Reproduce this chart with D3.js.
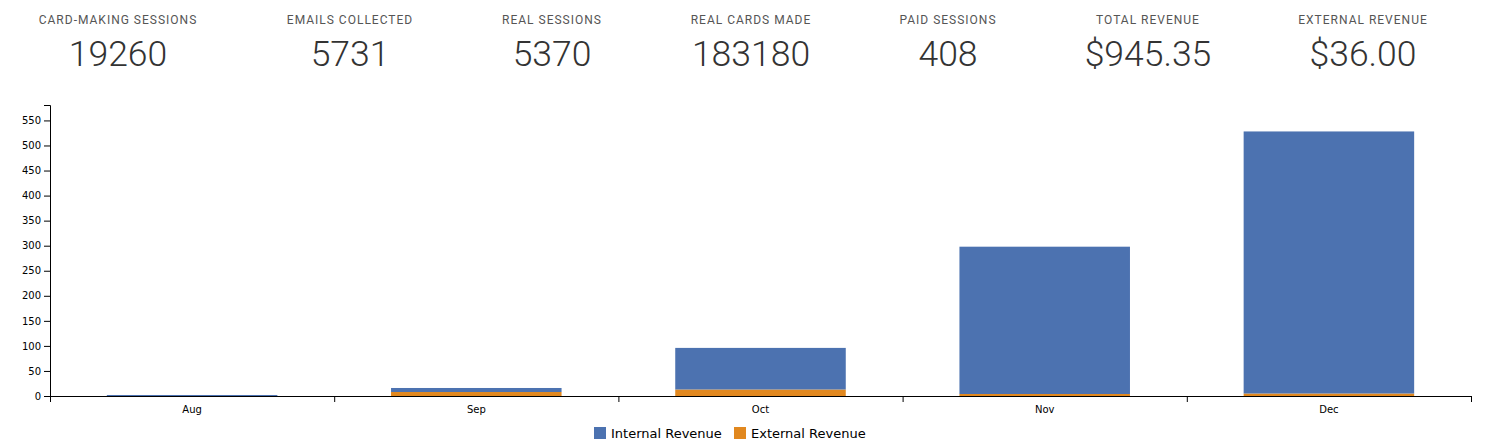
<!DOCTYPE html>
<html>
<head>
<meta charset="utf-8">
<script src="https://cdn.jsdelivr.net/npm/d3@7"></script>
<style>
  html, body { margin: 0; padding: 0; background: #fff; }
  svg { display: block; }
</style>
</head>
<body>
<svg id="chart" width="1494" height="448"></svg>
<script>
const statTitles = ["CARD-MAKING SESSIONS", "EMAILS COLLECTED", "REAL SESSIONS", "REAL CARDS MADE", "PAID SESSIONS", "TOTAL REVENUE", "EXTERNAL REVENUE"];
const statValues = ["19260", "5731", "5370", "183180", "408", "$945.35", "$36.00"];
const statCenters = [118, 350, 552, 751, 948, 1148, 1363];

const months = ["Aug", "Sep", "Oct", "Nov", "Dec"];
const internalRevenue = [2, 8, 83, 294, 523];
const externalRevenue = [0, 8, 13, 4, 5];
const seriesNames = ["Internal Revenue", "External Revenue"];
const seriesColors = ["#4c72b0", "#e1881f"];

const svg = d3.select("#chart");

// Header stats
const stats = svg.append("g").selectAll("g").data(statTitles).join("g")
  .attr("transform", (d, i) => `translate(${statCenters[i]},0)`);
stats.append("text")
  .attr("y", 24).attr("text-anchor", "middle")
  .style("font-family", "Roboto").style("font-size", "12px")
  .style("letter-spacing", "1px").style("fill", "#555")
  .text(d => d);
stats.append("text")
  .attr("y", 66).attr("text-anchor", "middle")
  .style("font-family", "Roboto").style("font-weight", "300").style("font-size", "35.5px")
  .style("fill", "#333")
  .text((d, i) => statValues[i]);

// Chart
const margin = {left: 50, right: 23, top: 105, bottom: 396};
const data = months.map((m, i) => ({month: m, internal: internalRevenue[i], external: externalRevenue[i]}));
const stack = d3.stack().keys(["external", "internal"]);
const layers = stack(data);

const x = d3.scaleBand().domain(months).range([margin.left, 1494 - margin.right]).paddingInner(0.4).paddingOuter(0.2);
const xb = d3.scaleLinear().domain([0, months.length]).range([margin.left, 1494 - margin.right]);
const maxTotal = d3.max(data, d => d.internal + d.external);
const y = d3.scaleLinear().domain([0, maxTotal * 1.1]).range([396, margin.top]);

const colorOf = {internal: seriesColors[0], external: seriesColors[1]};

svg.append("g").selectAll("g").data(layers).join("g")
  .attr("fill", d => colorOf[d.key])
  .selectAll("rect").data(d => d).join("rect")
  .attr("x", d => x(d.data.month))
  .attr("width", x.bandwidth())
  .attr("y", d => y(d[1]))
  .attr("height", d => y(d[0]) - y(d[1]));

// Y axis
svg.append("g").attr("transform", `translate(${margin.left},0)`)
  .call(d3.axisLeft(y).tickValues(d3.range(0, 551, 50)))
  .call(g => g.selectAll("text").style("font-family", "DejaVu Sans").style("font-size", "10px"));

// X axis boundary ticks
svg.append("g").attr("transform", `translate(0,396)`)
  .call(d3.axisBottom(xb).tickValues(d3.range(0, months.length + 1)).tickFormat("").tickSizeOuter(0));
// X labels
svg.append("g").attr("transform", `translate(0,396)`)
  .call(d3.axisBottom(x).tickSize(0).tickPadding(10))
  .call(g => g.select(".domain").remove())
  .call(g => g.selectAll("text").style("font-family", "DejaVu Sans").style("font-size", "10px"));

// Legend
const legendX = [594, 734];
const legend = svg.append("g").selectAll("g").data(seriesNames).join("g")
  .attr("transform", (d, i) => `translate(${legendX[i]},427)`);
legend.append("rect").attr("width", 12).attr("height", 12).attr("fill", (d, i) => seriesColors[i]);
legend.append("text").attr("x", 17).attr("y", 11)
  .style("font-family", "DejaVu Sans").style("font-size", "13px").style("fill", "#000")
  .text(d => d);
</script>
</body>
</html>
